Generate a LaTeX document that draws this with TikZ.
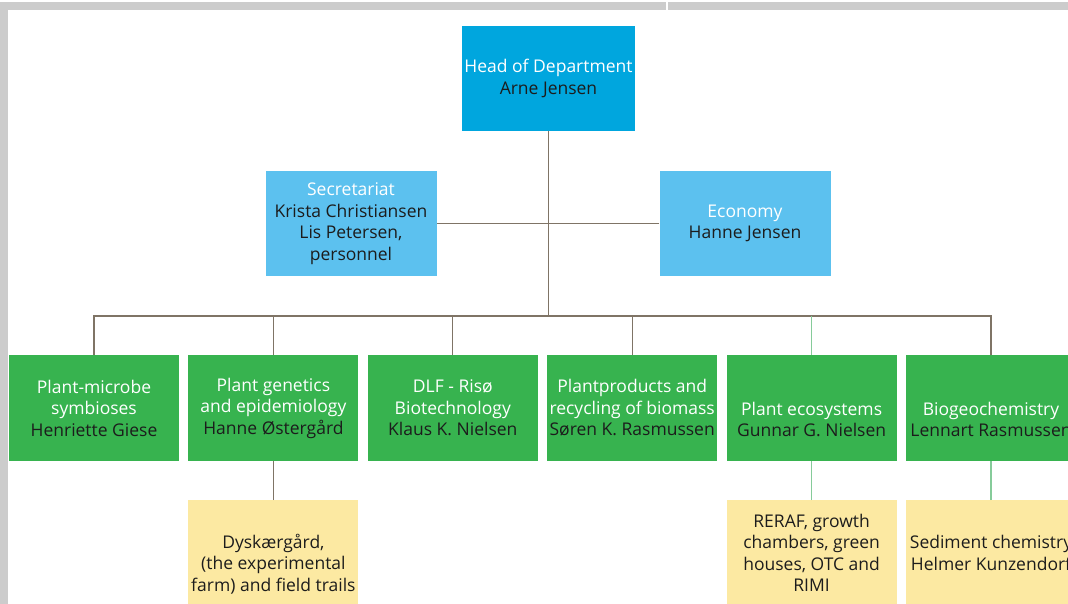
\documentclass[tikz,border=0pt]{standalone}
\usepackage{fontspec}
\setmainfont{Open Sans}
\usetikzlibrary{positioning}
\definecolor{headblue}{HTML}{00A6DE}
\definecolor{staffblue}{HTML}{5CC1EF}
\definecolor{unitgreen}{HTML}{37B34F}
\definecolor{siteyellow}{HTML}{FCE9A2}
\definecolor{ink}{HTML}{1C1C1C}
\definecolor{wire}{HTML}{7F7466}
\definecolor{softwire}{HTML}{86CB9A}
\definecolor{framegray}{HTML}{CCCCCC}
\newcommand{\staffname}[1]{\textcolor{ink}{#1}}
\tikzset{
    box/.style={rectangle,inner sep=0pt,align=center,text=white,font=\fontsize{17.5pt}{21.5pt}\selectfont},
    chief/.style={box,fill=headblue,minimum width=173pt,minimum height=105pt},
    staff/.style={box,fill=staffblue,minimum width=171pt,minimum height=105pt},
    unit/.style={box,fill=unitgreen,minimum width=170pt,minimum height=106pt},
    site/.style={box,fill=siteyellow,text=ink,minimum width=170pt,minimum height=105pt},
    link/.style={-,line width=1.2pt,wire},
    softlink/.style={-,line width=1.4pt,softwire}
}

\begin{document}
\begin{tikzpicture}[x=1pt,y=-1pt]

                \clip (0,0) rectangle (1068,604);
                \fill[framegray] (0,2) rectangle (666,10);
                \fill[framegray] (668,2) rectangle (1068,10);
                \fill[framegray] (0,2) rectangle (8,604);

                \coordinate (bus) at (548.5,316);

                \node[chief] (head) at (548.5,78.5) {Head of Department\\\staffname{Arne Jensen}};
                \draw[link] (head) -- (bus);

                \node[staff] (secretariat) at (351,223.5) {Secretariat\\\staffname{Krista Christiansen}\\\staffname{Lis Petersen,}\\\staffname{personnel}};
                \node[staff] (economy) at (745,223.5) {Economy\\\staffname{Hanne Jensen}}
                    edge[link] (secretariat);

                \node[unit] (unit 1) at (94,408)             {Plant-microbe\\symbioses\\\staffname{Henriette Giese}};
                \node[unit] (unit 2) [right=9pt of unit 1]   {Plant genetics\\and epidemiology\\\staffname{Hanne Østergård}};
                \node[unit] (unit 3) [right=9pt of unit 2]   {DLF - Risø\\Biotechnology\\\staffname{Klaus K. Nielsen}};
                \node[unit] (unit 4) [right=9pt of unit 3]   {Plantproducts and\\recycling of biomass\\\staffname{Søren K. Rasmussen}};
                \node[unit] (unit 5) [right=9pt of unit 4]   {\strut\\Plant ecosystems\\\staffname{Gunnar G. Nielsen}};
                \node[unit] (unit 6) [right=9pt of unit 5]   {\strut\\Biogeochemistry\\\staffname{Lennart Rasmussen}};

                \draw[link] (unit 1.north) |- (bus) -| (unit 6.north);
                \foreach \u in {2,3,4}
                    \draw[link] (unit \u.north) -- (unit \u.north |- bus);
                \draw[softlink] (unit 5.north) -- (unit 5.north |- bus);

                \node[site] (site 2) [below=39pt of unit 2] {\strut\\Dyskærgård,\\(the experimental\\farm) and field trails}
                    edge[link] (unit 2);
                \node[site] (site 5) [below=39pt of unit 5] {RERAF, growth\\chambers, green\\houses, OTC and\\RIMI}
                    edge[softlink] (unit 5);
                \node[site] (site 6) [below=39pt of unit 6] {Sediment chemistry\\Helmer Kunzendorf}
                    edge[softlink] (unit 6);

            \end{tikzpicture}
\end{document}
